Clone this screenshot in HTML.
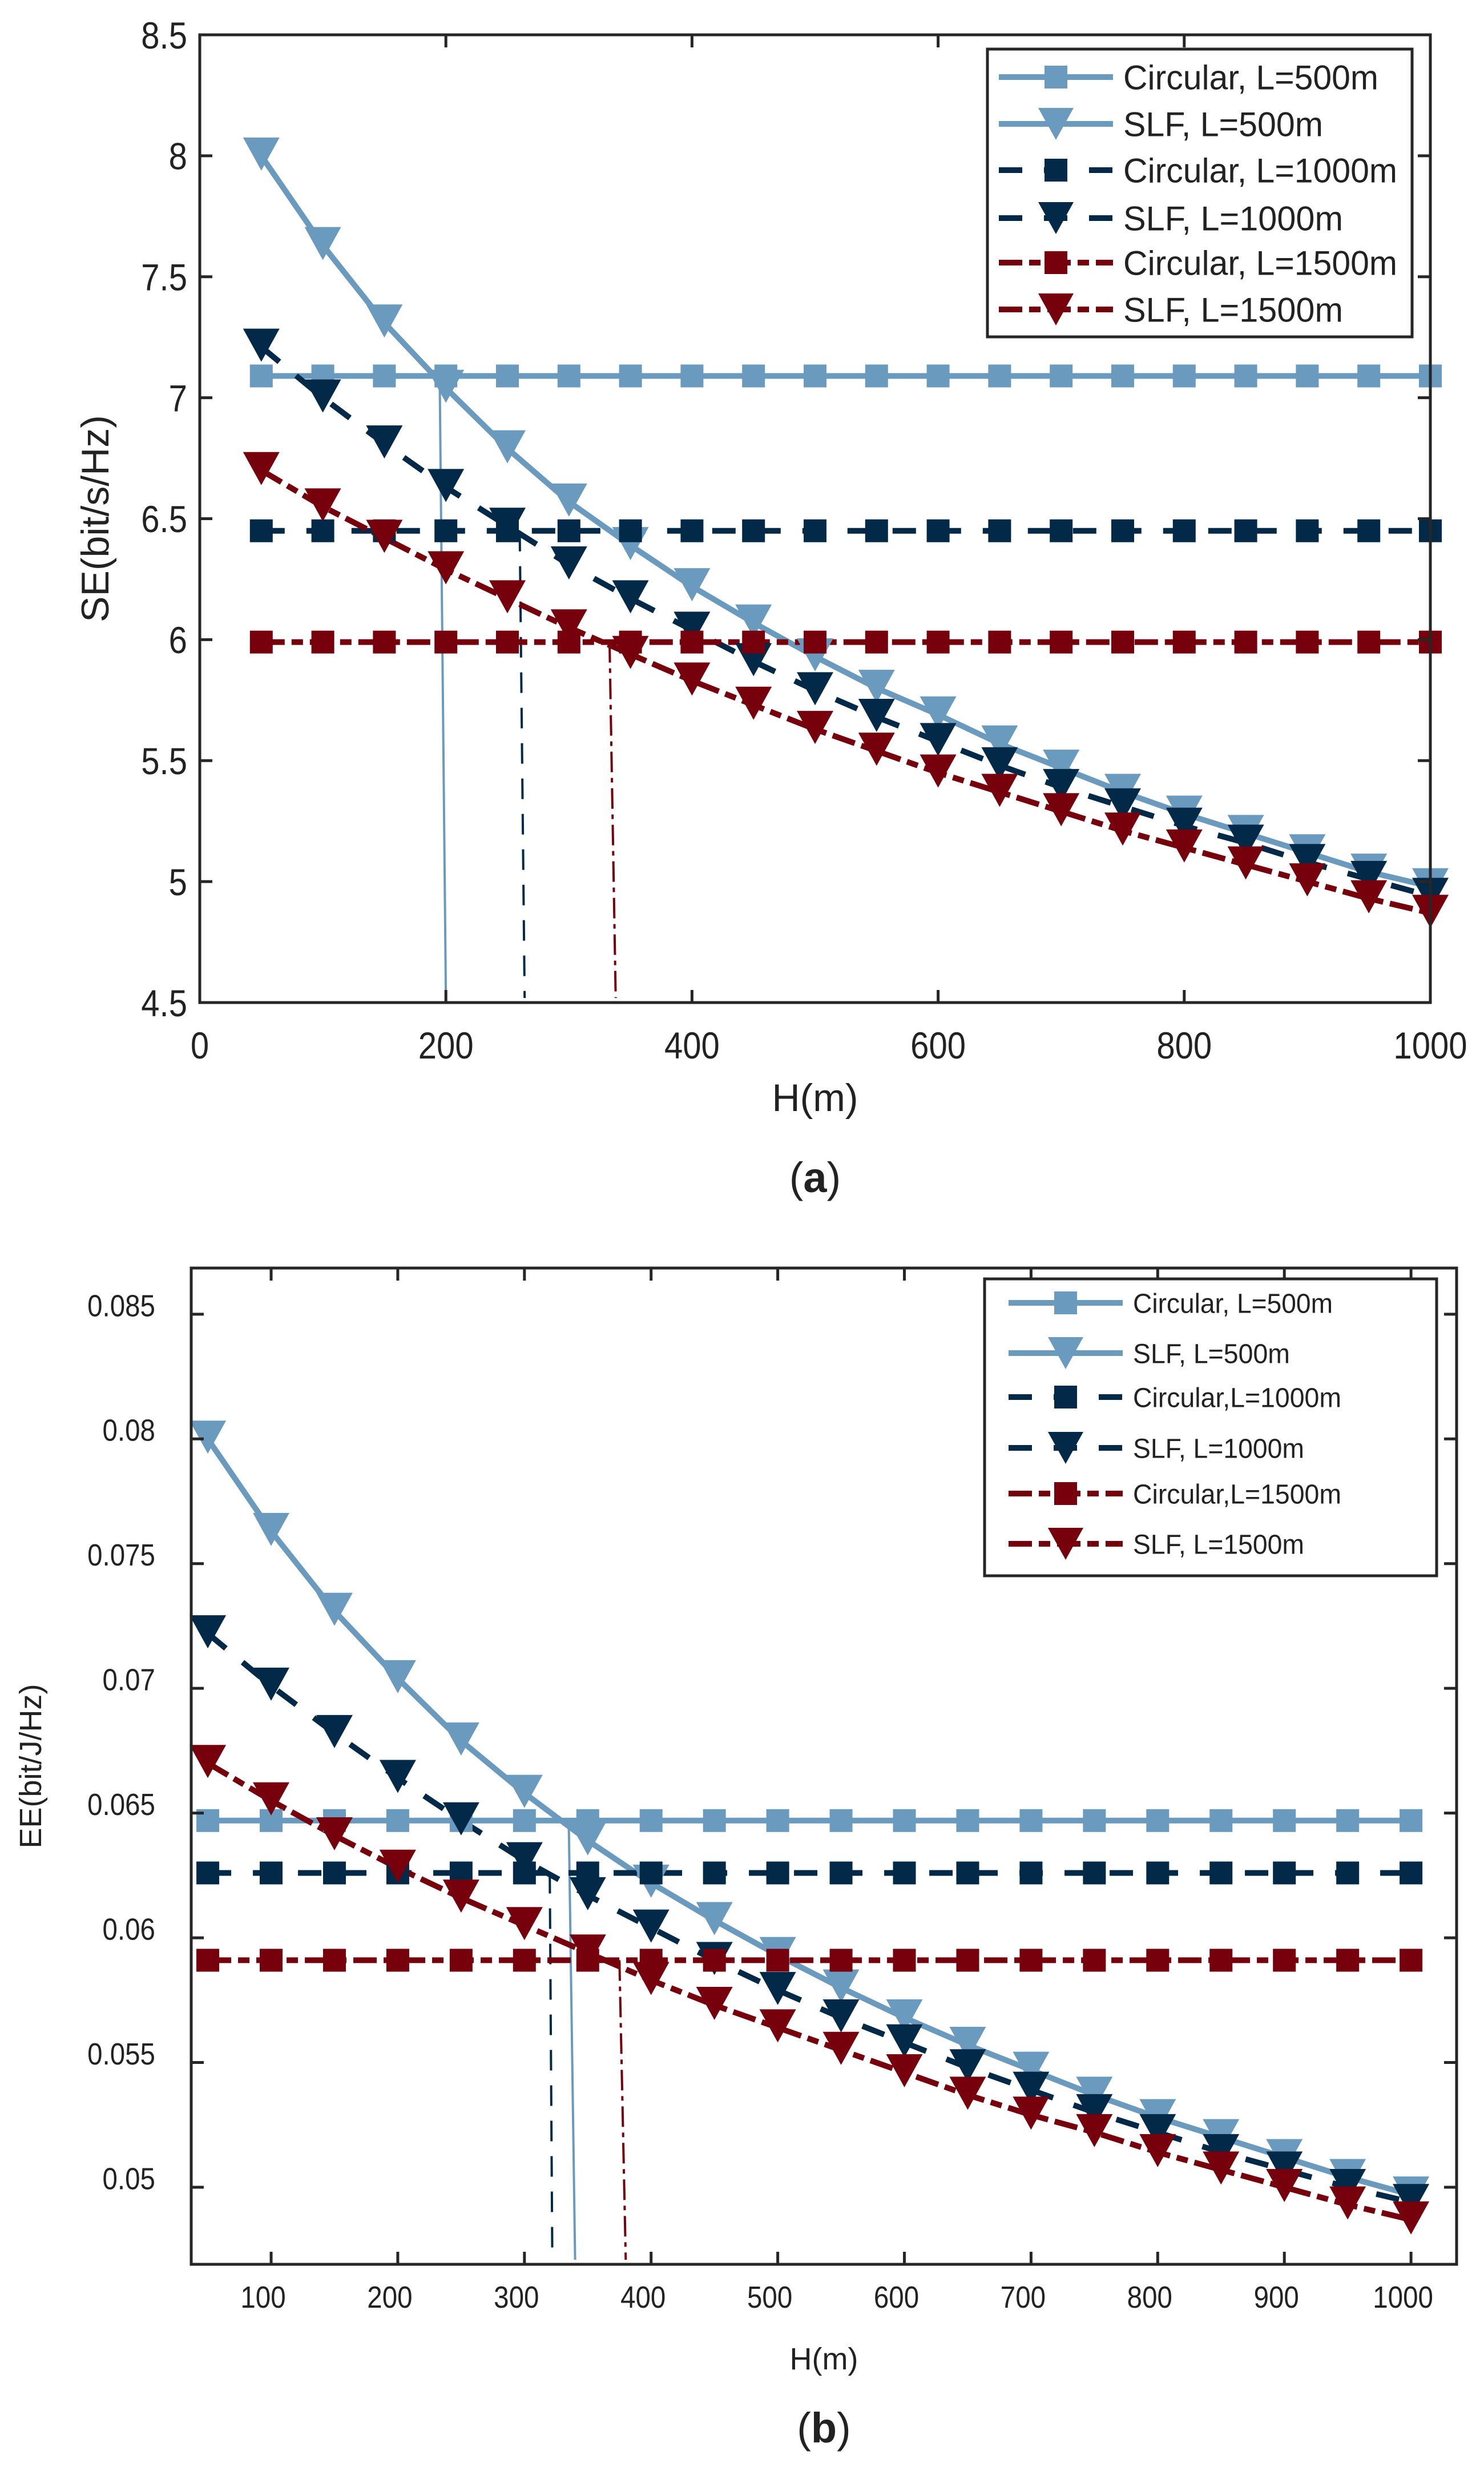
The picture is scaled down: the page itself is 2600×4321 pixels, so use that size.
<!DOCTYPE html>
<html><head><meta charset="utf-8"><style>
html,body{margin:0;padding:0;background:#fff}
svg{display:block}
text{font-family:"Liberation Sans",sans-serif;fill:#222}
</style></head><body>
<svg id="svg" width="2600" height="4321" viewBox="0 0 2600 4321" xmlns="http://www.w3.org/2000/svg"></svg>
<script>
// ---- data ----
const hValues=[50,100,150,200,250,300,350,400,450,500,550,600,650,700,750,800,850,900,950,1000];
const seCirc500=7.09, seCirc1000=6.45, seCirc1500=5.99;
const seSlf500=[8.0,7.63,7.31,7.04,6.79,6.57,6.39,6.22,6.07,5.93,5.80,5.69,5.57,5.47,5.37,5.28,5.20,5.12,5.04,4.98];
const seSlf1000=[7.21,7.00,6.81,6.63,6.47,6.31,6.17,6.04,5.91,5.79,5.68,5.58,5.48,5.39,5.31,5.23,5.16,5.08,5.01,4.94];
const seSlf1500=[6.70,6.55,6.42,6.29,6.17,6.05,5.94,5.83,5.73,5.63,5.54,5.45,5.37,5.29,5.21,5.14,5.07,5.00,4.93,4.87];
const seCross=[[195,7.07,200],[260,6.45,264],[333,5.99,338]];
const eeCirc500=0.0647, eeCirc1000=0.0626, eeCirc1500=0.0591;
const eeSlf500=[0.0800,0.0763,0.0731,0.0704,0.0679,0.0658,0.0639,0.0622,0.0607,0.0593,0.0580,0.0568,0.0557,0.0547,0.0537,0.0528,0.0520,0.0512,0.0504,0.0497];
const eeSlf1000=[0.0722,0.0701,0.0682,0.0664,0.0647,0.0631,0.0617,0.0604,0.0591,0.0579,0.0568,0.0558,0.0548,0.0539,0.0530,0.0522,0.0514,0.0507,0.0500,0.0494];
const eeSlf1500=[0.0670,0.0655,0.0641,0.0628,0.0616,0.0605,0.0594,0.0583,0.0573,0.0564,0.0555,0.0546,0.0537,0.0529,0.0522,0.0514,0.0507,0.0500,0.0493,0.0487];
const eeCross=[[335,0.0647,340],[320,0.0626,322],[375,0.0591,380]];
const seYTicks=[4.5,5,5.5,6,6.5,7,7.5,8,8.5];
const seXTicks=[0,200,400,600,800,1000];
const eeYTicks=[0.05,0.055,0.06,0.065,0.07,0.075,0.08,0.085];
const eeXTicks=[100,200,300,400,500,600,700,800,900,1000];
const legendLabelsA=["Circular, L=500m","SLF, L=500m","Circular, L=1000m","SLF, L=1000m","Circular, L=1500m","SLF, L=1500m"];
const legendLabelsB=["Circular, L=500m","SLF, L=500m","Circular,L=1000m","SLF, L=1000m","Circular,L=1500m","SLF, L=1500m"];

const NS="http://www.w3.org/2000/svg";
const svg=document.getElementById('svg');
const C=['#6a9bbf','#022a48','#76000b'];
const DASH=[null,'41 38','41 12 20 12'];
function el(tag,attrs,parent,txt){const e=document.createElementNS(NS,tag);for(const k in attrs)e.setAttribute(k,attrs[k]);if(txt!==undefined)e.textContent=txt;(parent||svg).appendChild(e);return e;}

function chart(cfg){
  const g=el('g',{});
  
  
  const X=v=>cfg.L+(v-cfg.x0)/(cfg.x1-cfg.x0)*(cfg.R-cfg.L);
  const Y=v=>cfg.B-(v-cfg.y0)/(cfg.y1-cfg.y0)*(cfg.B-cfg.T);
  const circ=[cfg.circ[0],cfg.circ[1],cfg.circ[2]];
  const slf=[cfg.slf[0],cfg.slf[1],cfg.slf[2]];
  for(let s=0;s<3;s++){
    const cr=cfg.cross[s];
    const dl=el('line',{x1:X(cr[0]),y1:Y(cr[1]),x2:X(cr[2]),y2:cfg.B-8,stroke:C[s],'stroke-width':4,'stroke-dasharray':s==0?'none':(s==1?'36 26':'36 10 8 10')},g);
    
    
  }
  for(let s=0;s<3;s++){
    const ptsC=hValues.map(h=>X(h)+','+Y(circ[s])).join(' ');
    const pl=el('polyline',{points:ptsC,fill:'none',stroke:C[s],'stroke-width':10,'stroke-dasharray':DASH[s]||'none'},g);
    
    
    const ptsS=hValues.map((h,i)=>X(h)+','+Y(slf[s][i])).join(' ');
    const ps=el('polyline',{points:ptsS,fill:'none',stroke:C[s],'stroke-width':10,'stroke-dasharray':DASH[s]||'none'},g);
    
    
  }
  for(let s=0;s<3;s++){
    hValues.forEach((h,i)=>{
      const x=X(h),y=Y(circ[s]);
      const r=el('rect',{x:x-20,y:y-20,width:40,height:40,fill:C[s]},g);
      
      
      const ty=Y(slf[s][i]);
      const t=el('polygon',{points:`${x-32},${ty-32} ${x+32},${ty-32} ${x},${ty+26}`,fill:C[s]},g);
      
      
    });
  }
  const box=el('rect',{x:cfg.L,y:cfg.T,width:cfg.R-cfg.L,height:cfg.B-cfg.T,fill:'none',stroke:'#262626','stroke-width':5},g);
  
  
  cfg.yt.forEach(v=>{
    const y=Y(v);
    el('line',{x1:cfg.L,y1:y,x2:cfg.L+22,y2:y,stroke:'#262626','stroke-width':5},g);
    el('line',{x1:cfg.R,y1:y,x2:cfg.R-22,y2:y,stroke:'#262626','stroke-width':5},g);
    const t=el('text',{x:cfg.ylx,y:y+cfg.fs*0.36+cfg.yoff,'text-anchor':'end','font-size':cfg.fs,transform:`translate(${cfg.ylx},0) scale(0.88,1) translate(${-cfg.ylx},0)`},g,String(v));
    
    
  });
  cfg.xt.forEach(v=>{
    const x=X(v);
    el('line',{x1:x,y1:cfg.B,x2:x,y2:cfg.B-22,stroke:'#262626','stroke-width':5},g);
    el('line',{x1:x,y1:cfg.T,x2:x,y2:cfg.T+22,stroke:'#262626','stroke-width':5},g);
    const cx=x+cfg.xoff;
    const t=el('text',{x:cx,y:cfg.xly,'text-anchor':'middle','font-size':cfg.fs,transform:`translate(${cx},0) scale(0.88,1) translate(${-cx},0)`},g,String(v));
    
    
  });
  const xt=el('text',{x:(cfg.L+cfg.R)/2,y:cfg.xty,'text-anchor':'middle','font-size':cfg.tfs},g,'H(m)');
  
  
  const yt=el('text',{x:0,y:0,'text-anchor':'middle','font-size':cfg.tfs,transform:`translate(${cfg.ytx},${(cfg.T+cfg.B)/2}) rotate(-90)`},g,cfg.ytitle);
  
  
  const lg=el('g',{},g);
  
  
  el('rect',{x:cfg.lgx,y:cfg.lgy,width:cfg.lgw,height:cfg.lgh,fill:'#fff',stroke:'#262626','stroke-width':5},lg);
  cfg.labels.forEach((lab,i)=>{
    const s=Math.floor(i/2),y=cfg.rows[i];
    const x0=cfg.lgx+cfg.lpad,x1=x0+200,mx=x0+100;
    el('line',{x1:x0,y1:y,x2:x1,y2:y,stroke:C[s],'stroke-width':10,'stroke-dasharray':DASH[s]||'none'},lg);
    if(i%2==0) el('rect',{x:mx-20,y:y-20,width:40,height:40,fill:C[s]},lg);
    else el('polygon',{points:`${mx-31},${y-28} ${mx+31},${y-28} ${mx},${y+28}`,fill:C[s]},lg);
    const t=el('text',{x:x1+18,y:y+cfg.lfs*0.36,'font-size':cfg.lfs,textLength:cfg.lw[i],lengthAdjust:'spacingAndGlyphs',fill:'#000'},lg,lab);
    
    
  });
  const cap=el('text',{x:(cfg.L+cfg.R)/2,y:cfg.capy,'text-anchor':'middle','font-size':74,'font-family':'Liberation Serif, serif',fill:'#000'},g);
  cap.innerHTML='(<tspan font-weight="bold">'+cfg.cap+'</tspan>)';
  
  
}

chart({name:'chart-se',L:350,R:2506,T:61,B:1756,x0:0,x1:1000,y0:4.5,y1:8.5,
  circ:[seCirc500,seCirc1000,seCirc1500],slf:[seSlf500,seSlf1000,seSlf1500],cross:seCross,
  yt:seYTicks,xt:seXTicks,fs:66,tfs:68,ylx:328,yoff:0,xly:1854,xoff:0,xty:1946,ytx:190,ytitle:'SE(bit/s/Hz)',
  lgx:1730,lgy:86,lgw:744,lgh:504,lpad:20,rows:[135,217,298,382,460,542],lfs:60,
  lw:[447,350,480,385,480,385],labels:legendLabelsA,cap:'a',capy:2088});
chart({name:'chart-ee',L:335,R:2552,T:2221,B:3966,x0:36.9,x1:1036,y0:0.04691,y1:0.08685,
  circ:[eeCirc500,eeCirc1000,eeCirc1500],slf:[eeSlf500,eeSlf1000,eeSlf1500],cross:eeCross,
  yt:eeYTicks,xt:eeXTicks,fs:54,tfs:54,ylx:272,yoff:-16,xly:4042,xoff:-14,xty:4150,ytx:72,ytitle:'EE(bit/J/Hz)',
  lgx:1725,lgy:2240,lgw:792,lgh:520,lpad:42,rows:[2282,2370,2447,2536,2616,2704],lfs:48,
  lw:[350,275,365,300,365,300],labels:legendLabelsB,cap:'b',capy:4278});
</script>
</body></html>
